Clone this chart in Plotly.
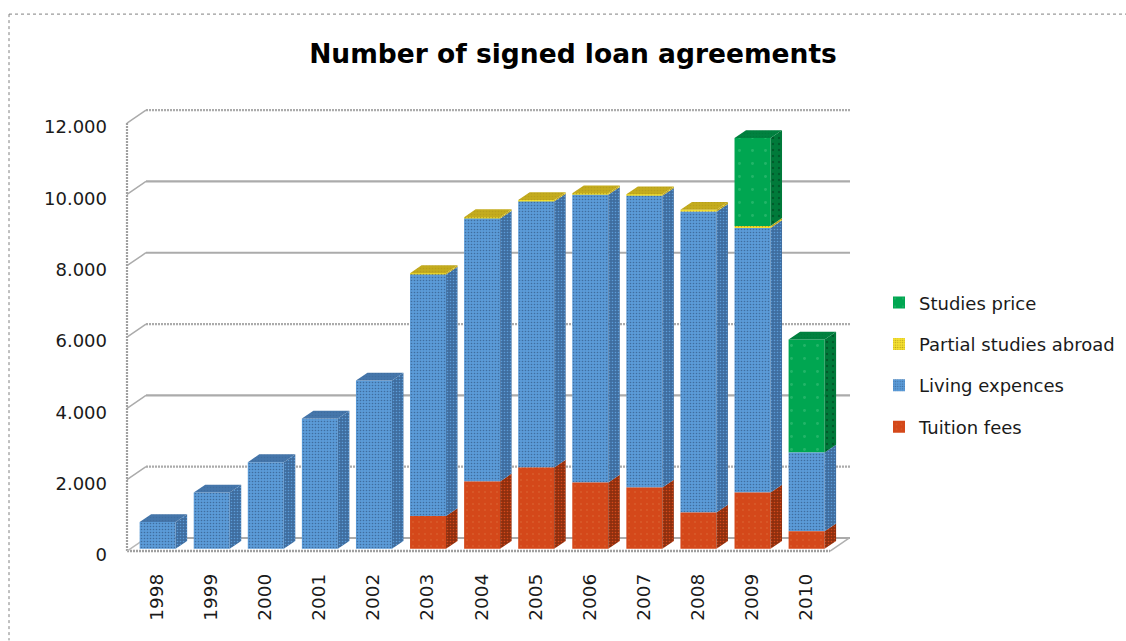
import plotly.graph_objects as go

# Signed loan agreements per year, split by loan purpose
years = [1998, 1999, 2000, 2001, 2002, 2003, 2004, 2005, 2006, 2007, 2008, 2009, 2010]
tuition_fees = [0, 0, 0, 0, 0, 920, 1890, 2280, 1860, 1720, 1020, 1580, 490]
living_expences = [750, 1580, 2430, 3655, 4720, 6770, 7370, 7460, 8070, 8180, 8430, 7415, 2210]
partial_abroad = [0, 0, 0, 0, 0, 40, 40, 40, 40, 40, 60, 60, 0]
studies_price = [0, 0, 0, 0, 0, 0, 0, 0, 0, 0, 0, 2465, 3170]
y_ticks = [0, 2000, 4000, 6000, 8000, 10000, 12000]

W, H = 1126, 641
LEFT, RIGHT, TOP, FLOOR = 127, 850, 110, 551.5
PAD = 5  # room around the walls so their strokes are not clipped
PX_PER_YEAR = 54.08
PX_PER_UNIT = 0.0357


def years_from_px(px):
    return px / PX_PER_YEAR


def units_from_px(px):
    return px / PX_PER_UNIT


x_start = years[0] - 0.5
x_end = x_start + years_from_px(RIGHT - LEFT)
y_end = units_from_px(FLOOR - TOP)

# Oblique projection: how far the walls and the bars recede into the chart
WALL_DX, WALL_DY = years_from_px(19), units_from_px(13)
BAR_X, BAR_Y = years_from_px(3.6), units_from_px(2.2)
BAR_DX, BAR_DY = years_from_px(11.5), units_from_px(7.8)
BAR_W = 36 / PX_PER_YEAR

series = [
    ("Tuition fees", tuition_fees, "#D4481A", "#8E2F0E", "#A33810"),
    ("Living expences", living_expences, "#5B9BD8", "#3F6D9F", "#4576AB"),
    ("Partial studies abroad", partial_abroad, "#F4E030", "#B89F1C", "#C4AC1E"),
    ("Studies price", studies_price, "#00A651", "#007A3A", "#00813F"),
]


def stipple(bg, fg, solidity=0.22, size=3):
    return dict(shape=".", size=size, solidity=solidity, fgcolor=fg, bgcolor=bg, fillmode="replace")


# Cumulative stack boundaries
lowers, uppers = [], []
base = [0] * len(years)
for _, values, *_ in series:
    lowers.append(base)
    base = [b + v for b, v in zip(base, values)]
    uppers.append(base)

fig = go.Figure()

# Front faces; added top segment first so the legend lists them in that order
for idx in reversed(range(len(series))):
    name, values, front, side, top = series[idx]
    if name == "Studies price":
        pattern = stipple(front, "#22B568", 0.04, 13)
    elif name == "Tuition fees":
        pattern = stipple(front, "#D85A2A", 0.1, 6)
    else:
        pattern = stipple(front, side)
    fig.add_bar(
        x=[y + BAR_X for y in years], y=values, base=[b + BAR_Y for b in lowers[idx]],
        width=BAR_W, name=name, legendgroup=name,
        marker=dict(color=front, line_width=0, pattern=pattern),
        hoverinfo="skip",
    )

# Side faces of every stack segment
for idx, (name, values, front, side, top) in enumerate(series):
    xs, ys = [], []
    for yr, lo, hi in zip(years, lowers[idx], uppers[idx]):
        if hi > lo:
            x1 = yr + BAR_X + BAR_W / 2
            xs += [x1, x1 + BAR_DX, x1 + BAR_DX, x1, None]
            ys += [lo + BAR_Y, lo + BAR_Y + BAR_DY, hi + BAR_Y + BAR_DY, hi + BAR_Y, None]
    is_green = name == "Studies price"
    fig.add_scatter(x=xs, y=ys, mode="none", fill="toself", fillcolor=side,
                    fillpattern=stipple(side, "#005A2A" if is_green else front, 0.12 if is_green else 0.22, 6 if is_green else 3),
                    showlegend=False, hoverinfo="skip")

# Top face of each stack takes the colour of its highest non-empty segment
for idx, (name, values, front, side, top) in enumerate(series):
    xs, ys = [], []
    for i, yr in enumerate(years):
        highest = max(k for k in range(len(series)) if series[k][1][i] > 0)
        if highest == idx:
            x0 = yr + BAR_X - BAR_W / 2
            x1 = yr + BAR_X + BAR_W / 2
            t = uppers[idx][i] + BAR_Y
            xs += [x0, x1, x1 + BAR_DX, x0 + BAR_DX, None]
            ys += [t, t, t + BAR_DY, t + BAR_DY, None]
    fig.add_scatter(x=xs, y=ys, mode="none", fill="toself", fillcolor=top,
                    fillpattern=stipple(top, side), showlegend=False, hoverinfo="skip")

# Chart walls and floor sit underneath the bars
WALL_SOLID = dict(color="#ABABAB", width=2.2)
WALL_FINE = dict(color="#ABABAB", width=2.2, dash="2px,1px")
fine_ticks = {12000, 6000, 2000}
FRONT_X1 = years[-1] + 0.5
shapes = []
for tick in y_ticks:
    style = WALL_FINE if tick in fine_ticks else WALL_SOLID
    if tick > 0:
        shapes.append(dict(type="line", x0=x_start, y0=tick, x1=x_start + WALL_DX, y1=tick + WALL_DY,
                           line=dict(color="#ABABAB", width=1.5), layer="below"))
    shapes.append(dict(type="line", x0=x_start + WALL_DX, y0=tick + WALL_DY, x1=x_end, y1=tick + WALL_DY,
                       line=style, layer="below"))
shapes += [
    dict(type="line", x0=x_start, y0=0, x1=x_start, y1=y_ticks[-1], line=dict(color="#A0A0A0", width=2.2, dash="2px,1px"), layer="below"),
    dict(type="line", x0=x_start, y0=0, x1=FRONT_X1, y1=0, line=dict(color="#A0A0A0", width=2.5, dash="2px,1px"), layer="below"),
    dict(type="line", x0=x_start, y0=0, x1=x_start + WALL_DX, y1=WALL_DY, line=dict(color="#B8B8B8", width=1.5), layer="below"),
    dict(type="line", x0=FRONT_X1, y0=0, x1=FRONT_X1 + WALL_DX, y1=WALL_DY, line=dict(color="#B0B0B0", width=1.5), layer="below"),
]

# Plot area in pixels, slightly larger than the walls
PL, PR, PT, PB = LEFT - PAD, RIGHT + PAD, TOP - PAD, FLOOR + PAD
PW, PH = PR - PL, PB - PT
frame_x = (9 - PL) / PW
frame_y = (PB - 14) / PH

# Dotted outer frame of the chart area, open on the right and at the bottom
FRAME = dict(color="#808080", width=1, dash="dot")
shapes += [
    dict(type="line", xref="paper", yref="paper", x0=frame_x, y0=frame_y, x1=(W - PL) / PW, y1=frame_y, line=FRAME),
    dict(type="line", xref="paper", yref="paper", x0=frame_x, y0=frame_y, x1=frame_x, y1=(PB - H) / PH, line=FRAME),
]

FONT = "DejaVu Sans"
fig.update_layout(
    width=W, height=H,
    margin=dict(l=PL, r=W - PR, t=PT, b=H - PB, pad=0, autoexpand=False),
    paper_bgcolor="white", plot_bgcolor="white",
    barmode="overlay", separators=",.",
    font=dict(family=FONT, color="#1A1A1A", size=18),
    title=dict(text="<b>Number of signed loan agreements</b>", x=573 / W, y=1 - 54 / H,
               xanchor="center", yanchor="middle", font=dict(family=FONT, size=26.5, color="#000000")),
    xaxis=dict(range=[x_start - years_from_px(PAD), x_end + years_from_px(PAD)], tickmode="array",
               tickvals=years, ticktext=[str(y) for y in years],
               tickangle=-90, showgrid=False, zeroline=False, showline=False, ticks="",
               ticklabelstandoff=13, ticklabelshift=3, tickfont=dict(size=18.5)),
    yaxis=dict(range=[-units_from_px(PAD), y_end + units_from_px(PAD)], tickmode="array",
               tickvals=y_ticks, tickformat=",d",
               showgrid=False, zeroline=False, showline=False, ticks="",
               ticklabelstandoff=14, ticklabelshift=4, tickfont=dict(size=18)),
    legend=dict(x=(879 - PL) / PW, y=(PB - 284.5) / PH, xanchor="left", yanchor="top",
                traceorder="grouped", tracegroupgap=15, font=dict(size=18),
                bgcolor="rgba(0,0,0,0)"),
    shapes=shapes,
)

fig.write_html("out.html")
